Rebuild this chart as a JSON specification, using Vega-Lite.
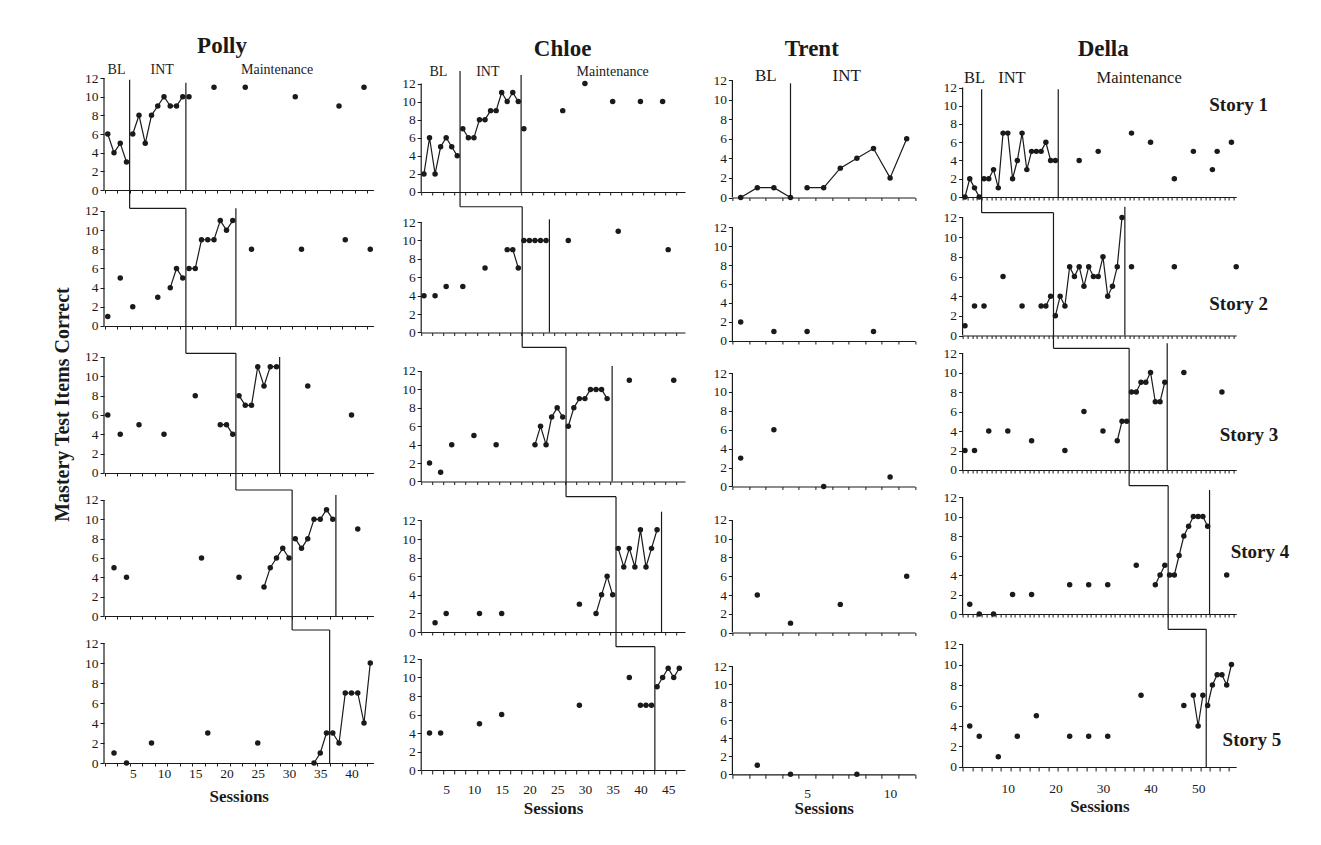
{
"$schema": "https://vega.github.io/schema/vega-lite/v6.json",
"background": "white",
"padding": {"left": 52, "top": 34, "right": 0, "bottom": 0},
"config": {
 "view": {"stroke": null},
 "axis": {"labelFont": "Liberation Serif", "labelFontSize": 13.5, "labelColor": "#1a1a1a", "domainColor": "#1a1a1a", "tickColor": "#1a1a1a", "domainWidth": 1.2, "tickWidth": 1, "grid": false, "titleFont": "Liberation Serif", "titleFontSize": 17, "titleFontWeight": "bold", "titleColor": "#1a1a1a", "labelFlush": false, "labelOverlap": false, "tickSize": 4, "labelPadding": 2},
 "text": {"font": "Liberation Serif", "color": "#1a1a1a"}
},
"datasets": {
 "pts": [
  {"p":"P","k":1,"s":1,"v":6,"g":"b"},{"p":"P","k":1,"s":2,"v":4,"g":"b"},{"p":"P","k":1,"s":3,"v":5,"g":"b"},{"p":"P","k":1,"s":4,"v":3,"g":"b"},
  {"p":"P","k":1,"s":5,"v":6,"g":"i"},{"p":"P","k":1,"s":6,"v":8,"g":"i"},{"p":"P","k":1,"s":7,"v":5,"g":"i"},{"p":"P","k":1,"s":8,"v":8,"g":"i"},{"p":"P","k":1,"s":9,"v":9,"g":"i"},{"p":"P","k":1,"s":10,"v":10,"g":"i"},{"p":"P","k":1,"s":11,"v":9,"g":"i"},{"p":"P","k":1,"s":12,"v":9,"g":"i"},{"p":"P","k":1,"s":13,"v":10,"g":"i"},
  {"p":"P","k":1,"s":14,"v":10},{"p":"P","k":1,"s":18,"v":11},{"p":"P","k":1,"s":23,"v":11},{"p":"P","k":1,"s":31,"v":10},{"p":"P","k":1,"s":38,"v":9},{"p":"P","k":1,"s":42,"v":11},
  {"p":"P","k":2,"s":1,"v":1},{"p":"P","k":2,"s":3,"v":5},{"p":"P","k":2,"s":5,"v":2},{"p":"P","k":2,"s":9,"v":3},
  {"p":"P","k":2,"s":11,"v":4,"g":"b"},{"p":"P","k":2,"s":12,"v":6,"g":"b"},{"p":"P","k":2,"s":13,"v":5,"g":"b"},
  {"p":"P","k":2,"s":14,"v":6,"g":"i"},{"p":"P","k":2,"s":15,"v":6,"g":"i"},{"p":"P","k":2,"s":16,"v":9,"g":"i"},{"p":"P","k":2,"s":17,"v":9,"g":"i"},{"p":"P","k":2,"s":18,"v":9,"g":"i"},{"p":"P","k":2,"s":19,"v":11,"g":"i"},{"p":"P","k":2,"s":20,"v":10,"g":"i"},{"p":"P","k":2,"s":21,"v":11,"g":"i"},
  {"p":"P","k":2,"s":24,"v":8},{"p":"P","k":2,"s":32,"v":8},{"p":"P","k":2,"s":39,"v":9},{"p":"P","k":2,"s":43,"v":8},
  {"p":"P","k":3,"s":1,"v":6},{"p":"P","k":3,"s":3,"v":4},{"p":"P","k":3,"s":6,"v":5},{"p":"P","k":3,"s":10,"v":4},{"p":"P","k":3,"s":15,"v":8},
  {"p":"P","k":3,"s":19,"v":5,"g":"b"},{"p":"P","k":3,"s":20,"v":5,"g":"b"},{"p":"P","k":3,"s":21,"v":4,"g":"b"},
  {"p":"P","k":3,"s":22,"v":8,"g":"i"},{"p":"P","k":3,"s":23,"v":7,"g":"i"},{"p":"P","k":3,"s":24,"v":7,"g":"i"},{"p":"P","k":3,"s":25,"v":11,"g":"i"},{"p":"P","k":3,"s":26,"v":9,"g":"i"},{"p":"P","k":3,"s":27,"v":11,"g":"i"},{"p":"P","k":3,"s":28,"v":11,"g":"i"},
  {"p":"P","k":3,"s":33,"v":9},{"p":"P","k":3,"s":40,"v":6},
  {"p":"P","k":4,"s":2,"v":5},{"p":"P","k":4,"s":4,"v":4},{"p":"P","k":4,"s":16,"v":6},{"p":"P","k":4,"s":22,"v":4},
  {"p":"P","k":4,"s":26,"v":3,"g":"b"},{"p":"P","k":4,"s":27,"v":5,"g":"b"},{"p":"P","k":4,"s":28,"v":6,"g":"b"},{"p":"P","k":4,"s":29,"v":7,"g":"b"},{"p":"P","k":4,"s":30,"v":6,"g":"b"},
  {"p":"P","k":4,"s":31,"v":8,"g":"i"},{"p":"P","k":4,"s":32,"v":7,"g":"i"},{"p":"P","k":4,"s":33,"v":8,"g":"i"},{"p":"P","k":4,"s":34,"v":10,"g":"i"},{"p":"P","k":4,"s":35,"v":10,"g":"i"},{"p":"P","k":4,"s":36,"v":11,"g":"i"},{"p":"P","k":4,"s":37,"v":10,"g":"i"},
  {"p":"P","k":4,"s":41,"v":9},
  {"p":"P","k":5,"s":2,"v":1},{"p":"P","k":5,"s":4,"v":0},{"p":"P","k":5,"s":8,"v":2},{"p":"P","k":5,"s":17,"v":3},{"p":"P","k":5,"s":25,"v":2},
  {"p":"P","k":5,"s":34,"v":0,"g":"b"},{"p":"P","k":5,"s":35,"v":1,"g":"b"},{"p":"P","k":5,"s":36,"v":3,"g":"b"},
  {"p":"P","k":5,"s":37,"v":3,"g":"i"},{"p":"P","k":5,"s":38,"v":2,"g":"i"},{"p":"P","k":5,"s":39,"v":7,"g":"i"},{"p":"P","k":5,"s":40,"v":7,"g":"i"},{"p":"P","k":5,"s":41,"v":7,"g":"i"},{"p":"P","k":5,"s":42,"v":4,"g":"i"},{"p":"P","k":5,"s":43,"v":10,"g":"i"},
  {"p":"C","k":1,"s":1,"v":2,"g":"b"},{"p":"C","k":1,"s":2,"v":6,"g":"b"},{"p":"C","k":1,"s":3,"v":2,"g":"b"},{"p":"C","k":1,"s":4,"v":5,"g":"b"},{"p":"C","k":1,"s":5,"v":6,"g":"b"},{"p":"C","k":1,"s":6,"v":5,"g":"b"},{"p":"C","k":1,"s":7,"v":4,"g":"b"},
  {"p":"C","k":1,"s":8,"v":7,"g":"i"},{"p":"C","k":1,"s":9,"v":6,"g":"i"},{"p":"C","k":1,"s":10,"v":6,"g":"i"},{"p":"C","k":1,"s":11,"v":8,"g":"i"},{"p":"C","k":1,"s":12,"v":8,"g":"i"},{"p":"C","k":1,"s":13,"v":9,"g":"i"},{"p":"C","k":1,"s":14,"v":9,"g":"i"},{"p":"C","k":1,"s":15,"v":11,"g":"i"},{"p":"C","k":1,"s":16,"v":10,"g":"i"},{"p":"C","k":1,"s":17,"v":11,"g":"i"},{"p":"C","k":1,"s":18,"v":10,"g":"i"},
  {"p":"C","k":1,"s":19,"v":7},{"p":"C","k":1,"s":26,"v":9},{"p":"C","k":1,"s":30,"v":12},{"p":"C","k":1,"s":35,"v":10},{"p":"C","k":1,"s":40,"v":10},{"p":"C","k":1,"s":44,"v":10},
  {"p":"C","k":2,"s":1,"v":4},{"p":"C","k":2,"s":3,"v":4},{"p":"C","k":2,"s":5,"v":5},{"p":"C","k":2,"s":8,"v":5},{"p":"C","k":2,"s":12,"v":7},
  {"p":"C","k":2,"s":16,"v":9,"g":"b"},{"p":"C","k":2,"s":17,"v":9,"g":"b"},{"p":"C","k":2,"s":18,"v":7,"g":"b"},
  {"p":"C","k":2,"s":19,"v":10,"g":"i"},{"p":"C","k":2,"s":20,"v":10,"g":"i"},{"p":"C","k":2,"s":21,"v":10,"g":"i"},{"p":"C","k":2,"s":22,"v":10,"g":"i"},{"p":"C","k":2,"s":23,"v":10,"g":"i"},
  {"p":"C","k":2,"s":27,"v":10},{"p":"C","k":2,"s":36,"v":11},{"p":"C","k":2,"s":45,"v":9},
  {"p":"C","k":3,"s":2,"v":2},{"p":"C","k":3,"s":4,"v":1},{"p":"C","k":3,"s":6,"v":4},{"p":"C","k":3,"s":10,"v":5},{"p":"C","k":3,"s":14,"v":4},
  {"p":"C","k":3,"s":21,"v":4,"g":"b"},{"p":"C","k":3,"s":22,"v":6,"g":"b"},{"p":"C","k":3,"s":23,"v":4,"g":"b"},{"p":"C","k":3,"s":24,"v":7,"g":"b"},{"p":"C","k":3,"s":25,"v":8,"g":"b"},{"p":"C","k":3,"s":26,"v":7,"g":"b"},
  {"p":"C","k":3,"s":27,"v":6,"g":"i"},{"p":"C","k":3,"s":28,"v":8,"g":"i"},{"p":"C","k":3,"s":29,"v":9,"g":"i"},{"p":"C","k":3,"s":30,"v":9,"g":"i"},{"p":"C","k":3,"s":31,"v":10,"g":"i"},{"p":"C","k":3,"s":32,"v":10,"g":"i"},{"p":"C","k":3,"s":33,"v":10,"g":"i"},{"p":"C","k":3,"s":34,"v":9,"g":"i"},
  {"p":"C","k":3,"s":38,"v":11},{"p":"C","k":3,"s":46,"v":11},
  {"p":"C","k":4,"s":3,"v":1},{"p":"C","k":4,"s":5,"v":2},{"p":"C","k":4,"s":11,"v":2},{"p":"C","k":4,"s":15,"v":2},{"p":"C","k":4,"s":29,"v":3},
  {"p":"C","k":4,"s":32,"v":2,"g":"b"},{"p":"C","k":4,"s":33,"v":4,"g":"b"},{"p":"C","k":4,"s":34,"v":6,"g":"b"},{"p":"C","k":4,"s":35,"v":4,"g":"b"},
  {"p":"C","k":4,"s":36,"v":9,"g":"i"},{"p":"C","k":4,"s":37,"v":7,"g":"i"},{"p":"C","k":4,"s":38,"v":9,"g":"i"},{"p":"C","k":4,"s":39,"v":7,"g":"i"},{"p":"C","k":4,"s":40,"v":11,"g":"i"},{"p":"C","k":4,"s":41,"v":7,"g":"i"},{"p":"C","k":4,"s":42,"v":9,"g":"i"},{"p":"C","k":4,"s":43,"v":11,"g":"i"},
  {"p":"C","k":5,"s":2,"v":4},{"p":"C","k":5,"s":4,"v":4},{"p":"C","k":5,"s":11,"v":5},{"p":"C","k":5,"s":15,"v":6},{"p":"C","k":5,"s":29,"v":7},{"p":"C","k":5,"s":38,"v":10},
  {"p":"C","k":5,"s":40,"v":7,"g":"b"},{"p":"C","k":5,"s":41,"v":7,"g":"b"},{"p":"C","k":5,"s":42,"v":7,"g":"b"},
  {"p":"C","k":5,"s":43,"v":9,"g":"i"},{"p":"C","k":5,"s":44,"v":10,"g":"i"},{"p":"C","k":5,"s":45,"v":11,"g":"i"},{"p":"C","k":5,"s":46,"v":10,"g":"i"},{"p":"C","k":5,"s":47,"v":11,"g":"i"},
  {"p":"T","k":1,"s":1,"v":0,"g":"b"},{"p":"T","k":1,"s":2,"v":1,"g":"b"},{"p":"T","k":1,"s":3,"v":1,"g":"b"},{"p":"T","k":1,"s":4,"v":0,"g":"b"},
  {"p":"T","k":1,"s":5,"v":1,"g":"i"},{"p":"T","k":1,"s":6,"v":1,"g":"i"},{"p":"T","k":1,"s":7,"v":3,"g":"i"},{"p":"T","k":1,"s":8,"v":4,"g":"i"},{"p":"T","k":1,"s":9,"v":5,"g":"i"},{"p":"T","k":1,"s":10,"v":2,"g":"i"},{"p":"T","k":1,"s":11,"v":6,"g":"i"},
  {"p":"T","k":2,"s":1,"v":2},{"p":"T","k":2,"s":3,"v":1},{"p":"T","k":2,"s":5,"v":1},{"p":"T","k":2,"s":9,"v":1},
  {"p":"T","k":3,"s":1,"v":3},{"p":"T","k":3,"s":3,"v":6},{"p":"T","k":3,"s":6,"v":0},{"p":"T","k":3,"s":10,"v":1},
  {"p":"T","k":4,"s":2,"v":4},{"p":"T","k":4,"s":4,"v":1},{"p":"T","k":4,"s":7,"v":3},{"p":"T","k":4,"s":11,"v":6},
  {"p":"T","k":5,"s":2,"v":1},{"p":"T","k":5,"s":4,"v":0},{"p":"T","k":5,"s":8,"v":0},
  {"p":"D","k":1,"s":1,"v":0,"g":"b"},{"p":"D","k":1,"s":2,"v":2,"g":"b"},{"p":"D","k":1,"s":3,"v":1,"g":"b"},{"p":"D","k":1,"s":4,"v":0,"g":"b"},
  {"p":"D","k":1,"s":5,"v":2,"g":"i"},{"p":"D","k":1,"s":6,"v":2,"g":"i"},{"p":"D","k":1,"s":7,"v":3,"g":"i"},{"p":"D","k":1,"s":8,"v":1,"g":"i"},{"p":"D","k":1,"s":9,"v":7,"g":"i"},{"p":"D","k":1,"s":10,"v":7,"g":"i"},{"p":"D","k":1,"s":11,"v":2,"g":"i"},{"p":"D","k":1,"s":12,"v":4,"g":"i"},{"p":"D","k":1,"s":13,"v":7,"g":"i"},{"p":"D","k":1,"s":14,"v":3,"g":"i"},{"p":"D","k":1,"s":15,"v":5,"g":"i"},{"p":"D","k":1,"s":16,"v":5,"g":"i"},{"p":"D","k":1,"s":17,"v":5,"g":"i"},{"p":"D","k":1,"s":18,"v":6,"g":"i"},{"p":"D","k":1,"s":19,"v":4,"g":"i"},{"p":"D","k":1,"s":20,"v":4,"g":"i"},
  {"p":"D","k":1,"s":25,"v":4},{"p":"D","k":1,"s":29,"v":5},{"p":"D","k":1,"s":36,"v":7},{"p":"D","k":1,"s":40,"v":6},{"p":"D","k":1,"s":45,"v":2},{"p":"D","k":1,"s":49,"v":5},{"p":"D","k":1,"s":53,"v":3},{"p":"D","k":1,"s":54,"v":5},{"p":"D","k":1,"s":57,"v":6},
  {"p":"D","k":2,"s":1,"v":1},{"p":"D","k":2,"s":3,"v":3},{"p":"D","k":2,"s":5,"v":3},{"p":"D","k":2,"s":9,"v":6},{"p":"D","k":2,"s":13,"v":3},
  {"p":"D","k":2,"s":17,"v":3,"g":"b"},{"p":"D","k":2,"s":18,"v":3,"g":"b"},{"p":"D","k":2,"s":19,"v":4,"g":"b"},
  {"p":"D","k":2,"s":20,"v":2,"g":"i"},{"p":"D","k":2,"s":21,"v":4,"g":"i"},{"p":"D","k":2,"s":22,"v":3,"g":"i"},{"p":"D","k":2,"s":23,"v":7,"g":"i"},{"p":"D","k":2,"s":24,"v":6,"g":"i"},{"p":"D","k":2,"s":25,"v":7,"g":"i"},{"p":"D","k":2,"s":26,"v":5,"g":"i"},{"p":"D","k":2,"s":27,"v":7,"g":"i"},{"p":"D","k":2,"s":28,"v":6,"g":"i"},{"p":"D","k":2,"s":29,"v":6,"g":"i"},{"p":"D","k":2,"s":30,"v":8,"g":"i"},{"p":"D","k":2,"s":31,"v":4,"g":"i"},{"p":"D","k":2,"s":32,"v":5,"g":"i"},{"p":"D","k":2,"s":33,"v":7,"g":"i"},{"p":"D","k":2,"s":34,"v":12,"g":"i"},
  {"p":"D","k":2,"s":36,"v":7},{"p":"D","k":2,"s":45,"v":7},{"p":"D","k":2,"s":58,"v":7},
  {"p":"D","k":3,"s":1,"v":2},{"p":"D","k":3,"s":3,"v":2},{"p":"D","k":3,"s":6,"v":4},{"p":"D","k":3,"s":10,"v":4},{"p":"D","k":3,"s":15,"v":3},{"p":"D","k":3,"s":22,"v":2},{"p":"D","k":3,"s":26,"v":6},{"p":"D","k":3,"s":30,"v":4},
  {"p":"D","k":3,"s":33,"v":3,"g":"b"},{"p":"D","k":3,"s":34,"v":5,"g":"b"},{"p":"D","k":3,"s":35,"v":5,"g":"b"},
  {"p":"D","k":3,"s":36,"v":8,"g":"i"},{"p":"D","k":3,"s":37,"v":8,"g":"i"},{"p":"D","k":3,"s":38,"v":9,"g":"i"},{"p":"D","k":3,"s":39,"v":9,"g":"i"},{"p":"D","k":3,"s":40,"v":10,"g":"i"},{"p":"D","k":3,"s":41,"v":7,"g":"i"},{"p":"D","k":3,"s":42,"v":7,"g":"i"},{"p":"D","k":3,"s":43,"v":9,"g":"i"},
  {"p":"D","k":3,"s":47,"v":10},{"p":"D","k":3,"s":55,"v":8},
  {"p":"D","k":4,"s":2,"v":1},{"p":"D","k":4,"s":4,"v":0},{"p":"D","k":4,"s":7,"v":0},{"p":"D","k":4,"s":11,"v":2},{"p":"D","k":4,"s":15,"v":2},{"p":"D","k":4,"s":23,"v":3},{"p":"D","k":4,"s":27,"v":3},{"p":"D","k":4,"s":31,"v":3},{"p":"D","k":4,"s":37,"v":5},
  {"p":"D","k":4,"s":41,"v":3,"g":"b"},{"p":"D","k":4,"s":42,"v":4,"g":"b"},{"p":"D","k":4,"s":43,"v":5,"g":"b"},
  {"p":"D","k":4,"s":44,"v":4,"g":"i"},{"p":"D","k":4,"s":45,"v":4,"g":"i"},{"p":"D","k":4,"s":46,"v":6,"g":"i"},{"p":"D","k":4,"s":47,"v":8,"g":"i"},{"p":"D","k":4,"s":48,"v":9,"g":"i"},{"p":"D","k":4,"s":49,"v":10,"g":"i"},{"p":"D","k":4,"s":50,"v":10,"g":"i"},{"p":"D","k":4,"s":51,"v":10,"g":"i"},{"p":"D","k":4,"s":52,"v":9,"g":"i"},
  {"p":"D","k":4,"s":56,"v":4},
  {"p":"D","k":5,"s":2,"v":4},{"p":"D","k":5,"s":4,"v":3},{"p":"D","k":5,"s":8,"v":1},{"p":"D","k":5,"s":12,"v":3},{"p":"D","k":5,"s":16,"v":5},{"p":"D","k":5,"s":23,"v":3},{"p":"D","k":5,"s":27,"v":3},{"p":"D","k":5,"s":31,"v":3},{"p":"D","k":5,"s":38,"v":7},{"p":"D","k":5,"s":47,"v":6},
  {"p":"D","k":5,"s":49,"v":7,"g":"b"},{"p":"D","k":5,"s":50,"v":4,"g":"b"},{"p":"D","k":5,"s":51,"v":7,"g":"b"},
  {"p":"D","k":5,"s":52,"v":6,"g":"i"},{"p":"D","k":5,"s":53,"v":8,"g":"i"},{"p":"D","k":5,"s":54,"v":9,"g":"i"},{"p":"D","k":5,"s":55,"v":9,"g":"i"},{"p":"D","k":5,"s":56,"v":8,"g":"i"},{"p":"D","k":5,"s":57,"v":10,"g":"i"}
 ],
 "ph": [
  {"p":"P","k":1,"s":0.4,"s2":0.4,"v":0,"v2":12},{"p":"P","k":2,"s":0.4,"s2":0.4,"v":0,"v2":12},{"p":"P","k":3,"s":0.4,"s2":0.4,"v":0,"v2":12},{"p":"P","k":4,"s":0.4,"s2":0.4,"v":0,"v2":12},{"p":"P","k":5,"s":0.4,"s2":0.4,"v":0,"v2":12},
  {"p":"C","k":1,"s":0.5,"s2":0.5,"v":0,"v2":12},{"p":"C","k":2,"s":0.5,"s2":0.5,"v":0,"v2":12},{"p":"C","k":3,"s":0.5,"s2":0.5,"v":0,"v2":12},{"p":"C","k":4,"s":0.5,"s2":0.5,"v":0,"v2":12},{"p":"C","k":5,"s":0.5,"s2":0.5,"v":0,"v2":12},
  {"p":"T","k":1,"s":0.5,"s2":0.5,"v":0,"v2":12},{"p":"T","k":2,"s":0.5,"s2":0.5,"v":0,"v2":12},{"p":"T","k":3,"s":0.5,"s2":0.5,"v":0,"v2":12},{"p":"T","k":4,"s":0.5,"s2":0.5,"v":0,"v2":12},{"p":"T","k":5,"s":0.5,"s2":0.5,"v":0,"v2":12},
  {"p":"D","k":1,"s":0.5,"s2":0.5,"v":0,"v2":12},{"p":"D","k":2,"s":0.5,"s2":0.5,"v":0,"v2":12},{"p":"D","k":3,"s":0.5,"s2":0.5,"v":0,"v2":12},{"p":"D","k":4,"s":0.5,"s2":0.5,"v":0,"v2":12},{"p":"D","k":5,"s":0.5,"s2":0.5,"v":0,"v2":12},
  {"p":"P","k":1,"s":4.5,"s2":4.5,"v":11.8,"v2":-1.96},{"p":"P","k":1,"s":4.5,"s2":13.5,"v":-1.96,"v2":-1.96},{"p":"P","k":1,"s":13.5,"s2":13.5,"v":11.5,"v2":0},
  {"p":"P","k":2,"s":13.5,"s2":13.5,"v":12.28,"v2":-2.85},{"p":"P","k":2,"s":13.5,"s2":21.5,"v":-2.85,"v2":-2.85},{"p":"P","k":2,"s":21.5,"s2":21.5,"v":12.28,"v2":0},
  {"p":"P","k":3,"s":21.5,"s2":21.5,"v":12.38,"v2":-1.76},{"p":"P","k":3,"s":21.5,"s2":30.5,"v":-1.76,"v2":-1.76},{"p":"P","k":3,"s":28.5,"s2":28.5,"v":12,"v2":0},
  {"p":"P","k":4,"s":30.5,"s2":30.5,"v":13.03,"v2":-1.45},{"p":"P","k":4,"s":30.5,"s2":36.5,"v":-1.45,"v2":-1.45},{"p":"P","k":4,"s":37.5,"s2":37.5,"v":12.52,"v2":0},
  {"p":"P","k":5,"s":36.5,"s2":36.5,"v":13.3,"v2":0},
  {"p":"C","k":1,"s":7.5,"s2":7.5,"v":13.38,"v2":-1.63},{"p":"C","k":1,"s":7.5,"s2":18.7,"v":-1.63,"v2":-1.63},{"p":"C","k":1,"s":18.5,"s2":18.5,"v":12.94,"v2":0},
  {"p":"C","k":2,"s":18.7,"s2":18.7,"v":13.66,"v2":-1.61},{"p":"C","k":2,"s":18.7,"s2":26.6,"v":-1.61,"v2":-1.61},{"p":"C","k":2,"s":23.6,"s2":23.6,"v":12.29,"v2":0},
  {"p":"C","k":3,"s":26.6,"s2":26.6,"v":14.57,"v2":-1.65},{"p":"C","k":3,"s":26.6,"s2":35.6,"v":-1.65,"v2":-1.65},{"p":"C","k":3,"s":34.9,"s2":34.9,"v":12.54,"v2":0},
  {"p":"C","k":4,"s":35.6,"s2":35.6,"v":14.56,"v2":-1.58},{"p":"C","k":4,"s":35.6,"s2":42.6,"v":-1.58,"v2":-1.58},{"p":"C","k":4,"s":43.8,"s2":43.8,"v":12.95,"v2":0},
  {"p":"C","k":5,"s":42.6,"s2":42.6,"v":13.33,"v2":0},
  {"p":"T","k":1,"s":4,"s2":4,"v":11.66,"v2":0},
  {"p":"D","k":1,"s":4.5,"s2":4.5,"v":11.8,"v2":-1.72},{"p":"D","k":1,"s":4.5,"s2":19.6,"v":-1.72,"v2":-1.72},{"p":"D","k":1,"s":20.6,"s2":20.6,"v":11.8,"v2":0},
  {"p":"D","k":2,"s":19.6,"s2":19.6,"v":12.49,"v2":-1.3},{"p":"D","k":2,"s":19.6,"s2":35.5,"v":-1.3,"v2":-1.3},{"p":"D","k":2,"s":34.6,"s2":34.6,"v":13.1,"v2":0},
  {"p":"D","k":3,"s":35.5,"s2":35.5,"v":12.48,"v2":-1.61},{"p":"D","k":3,"s":35.5,"s2":43.7,"v":-1.61,"v2":-1.61},{"p":"D","k":3,"s":43.5,"s2":43.5,"v":13.0,"v2":0},
  {"p":"D","k":4,"s":43.7,"s2":43.7,"v":13.16,"v2":-1.57},{"p":"D","k":4,"s":43.7,"s2":51.7,"v":-1.57,"v2":-1.57},{"p":"D","k":4,"s":52.4,"s2":52.4,"v":12.72,"v2":0},
  {"p":"D","k":5,"s":51.7,"s2":51.7,"v":13.43,"v2":0}
 ],
 "lab": [
  {"p":"P","k":1,"c":"name","s":19.28,"v":14.68,"t":"Polly"},
  {"p":"C","k":1,"c":"name","s":25.98,"v":15.04,"t":"Chloe"},
  {"p":"T","k":1,"c":"name","s":5.28,"v":14.45,"t":"Trent"},
  {"p":"D","k":1,"c":"name","s":30.05,"v":15.45,"t":"Della"},
  {"p":"P","k":1,"c":"phase","s":2.4,"v":12.86,"t":"BL"},{"p":"P","k":1,"c":"phase","s":9.7,"v":12.86,"t":"INT"},{"p":"P","k":1,"c":"phase","s":28.1,"v":12.86,"t":"Maintenance"},
  {"p":"C","k":1,"c":"phase","s":3.6,"v":13.3,"t":"BL"},{"p":"C","k":1,"c":"phase","s":12.5,"v":13.3,"t":"INT"},{"p":"C","k":1,"c":"phase","s":35.0,"v":13.3,"t":"Maintenance"},
  {"p":"T","k":1,"c":"phase","s":2.51,"v":12.41,"t":"BL"},{"p":"T","k":1,"c":"phase","s":7.39,"v":12.41,"t":"INT"},
  {"p":"D","k":1,"c":"phase","s":3.0,"v":13.0,"t":"BL"},{"p":"D","k":1,"c":"phase","s":10.87,"v":13.0,"t":"INT"},{"p":"D","k":1,"c":"phase","s":37.6,"v":13.0,"t":"Maintenance"},
  {"p":"D","k":1,"c":"story","s":58.5,"v":10.1,"t":"Story 1"},
  {"p":"D","k":2,"c":"story","s":58.5,"v":3.2,"t":"Story 2"},
  {"p":"D","k":3,"c":"story","s":60.7,"v":3.6,"t":"Story 3"},
  {"p":"D","k":4,"c":"story","s":63.0,"v":6.36,"t":"Story 4"},
  {"p":"D","k":5,"c":"story","s":61.3,"v":2.6,"t":"Story 5"}
 ]
},
"columns": 4,
"spacing": {"row": 10, "column": 47.2},
"bounds": "flush",
"align": "each",
"resolve": {"scale": {"x": "independent", "y": "independent"}},
"concat": [
 {"width": 269.4, "height": 122,
  "encoding": {"x": {"field": "s", "type": "quantitative", "scale": {"domain": [0.4, 43.5], "nice": false, "zero": false}, "axis": {"values": [0.5,2.5,4.5,6.5,8.5,10.5,12.5,14.5,16.5,18.5,20.5,22.5,24.5,26.5,28.5,30.5,32.5,34.5,36.5,38.5,40.5,42.5], "labels": false, "title": null, "tickSize": 3, "offset": -10}},
               "y": {"field": "v", "type": "quantitative", "scale": {"domain": [-1.0714, 12], "nice": false, "zero": false}, "axis": {"values": [0,2,4,6,8,10,12], "title": null, "domain": false}}},
  "layer": [
   {"data": {"name": "ph"}, "transform": [{"filter": "datum.p==='P'&&datum.k===1"}], "mark": {"type": "rule", "color": "#1a1a1a", "strokeWidth": 1.2}, "encoding": {"x2": {"field": "s2"}, "y2": {"field": "v2"}}},
   {"data": {"name": "pts"}, "transform": [{"filter": "datum.p==='P'&&datum.k===1&&datum.g"}], "mark": {"type": "line", "color": "#1a1a1a", "strokeWidth": 1.2}, "encoding": {"detail": {"field": "g"}}},
   {"data": {"name": "pts"}, "transform": [{"filter": "datum.p==='P'&&datum.k===1"}], "mark": {"type": "circle", "color": "#1a1a1a", "size": 30, "opacity": 1}},
   {"data": {"name": "lab"}, "transform": [{"filter": "datum.p==='P'&&datum.k===1&&datum.c==='phase'"}], "mark": {"type": "text", "fontSize": 14, "baseline": "middle"}, "encoding": {"text": {"field": "t"}}},
   {"data": {"name": "lab"}, "transform": [{"filter": "datum.p==='P'&&datum.k===1&&datum.c==='name'"}], "mark": {"type": "text", "fontSize": 23, "fontWeight": "bold", "baseline": "alphabetic"}, "encoding": {"text": {"field": "t"}}}
  ]},
 {"width": 263.8, "height": 122,
  "encoding": {"x": {"field": "s", "type": "quantitative", "scale": {"domain": [0.5, 48.03], "nice": false, "zero": false}, "axis": {"values": [0.5,2.5,4.5,6.5,8.5,10.5,12.5,14.5,16.5,18.5,20.5,22.5,24.5,26.5,28.5,30.5,32.5,34.5,36.5,38.5,40.5,42.5,44.5,46.5], "labels": false, "title": null, "tickSize": 3, "offset": -8}},
               "y": {"field": "v", "type": "quantitative", "scale": {"domain": [-0.8848, 12.6083], "nice": false, "zero": false}, "axis": {"values": [0,2,4,6,8,10,12], "title": null, "domain": false}}},
  "layer": [
   {"data": {"name": "ph"}, "transform": [{"filter": "datum.p==='C'&&datum.k===1"}], "mark": {"type": "rule", "color": "#1a1a1a", "strokeWidth": 1.2}, "encoding": {"x2": {"field": "s2"}, "y2": {"field": "v2"}}},
   {"data": {"name": "pts"}, "transform": [{"filter": "datum.p==='C'&&datum.k===1&&datum.g"}], "mark": {"type": "line", "color": "#1a1a1a", "strokeWidth": 1.2}, "encoding": {"detail": {"field": "g"}}},
   {"data": {"name": "pts"}, "transform": [{"filter": "datum.p==='C'&&datum.k===1"}], "mark": {"type": "circle", "color": "#1a1a1a", "size": 30, "opacity": 1}},
   {"data": {"name": "lab"}, "transform": [{"filter": "datum.p==='C'&&datum.k===1&&datum.c==='phase'"}], "mark": {"type": "text", "fontSize": 14, "baseline": "middle"}, "encoding": {"text": {"field": "t"}}},
   {"data": {"name": "lab"}, "transform": [{"filter": "datum.p==='C'&&datum.k===1&&datum.c==='name'"}], "mark": {"type": "text", "fontSize": 23, "fontWeight": "bold", "baseline": "alphabetic"}, "encoding": {"text": {"field": "t"}}}
  ]},
 {"width": 182.6, "height": 122,
  "encoding": {"x": {"field": "s", "type": "quantitative", "scale": {"domain": [0.5, 11.5], "nice": false, "zero": false}, "axis": {"values": [0.5,1.5,2.5,3.5,4.5,5.5,6.5,7.5,8.5,9.5,10.5,11.5], "labels": false, "title": null, "tickSize": 3, "offset": -2.5}},
               "y": {"field": "v", "type": "quantitative", "scale": {"domain": [-0.2553, 12.2043], "nice": false, "zero": false}, "axis": {"values": [0,2,4,6,8,10,12], "title": null, "domain": false}}},
  "layer": [
   {"data": {"name": "ph"}, "transform": [{"filter": "datum.p==='T'&&datum.k===1"}], "mark": {"type": "rule", "color": "#1a1a1a", "strokeWidth": 1.2}, "encoding": {"x2": {"field": "s2"}, "y2": {"field": "v2"}}},
   {"data": {"name": "pts"}, "transform": [{"filter": "datum.p==='T'&&datum.k===1&&datum.g"}], "mark": {"type": "line", "color": "#1a1a1a", "strokeWidth": 1.2}, "encoding": {"detail": {"field": "g"}}},
   {"data": {"name": "pts"}, "transform": [{"filter": "datum.p==='T'&&datum.k===1"}], "mark": {"type": "circle", "color": "#1a1a1a", "size": 30, "opacity": 1}},
   {"data": {"name": "lab"}, "transform": [{"filter": "datum.p==='T'&&datum.k===1&&datum.c==='phase'"}], "mark": {"type": "text", "fontSize": 17, "baseline": "middle"}, "encoding": {"text": {"field": "t"}}},
   {"data": {"name": "lab"}, "transform": [{"filter": "datum.p==='T'&&datum.k===1&&datum.c==='name'"}], "mark": {"type": "text", "fontSize": 23, "fontWeight": "bold", "baseline": "alphabetic"}, "encoding": {"text": {"field": "t"}}}
  ]},
 {"width": 273.6, "height": 122,
  "encoding": {"x": {"field": "s", "type": "quantitative", "scale": {"domain": [0.5, 58], "nice": false, "zero": false}, "axis": {"values": [0.5,1.5,2.5,3.5,4.5,5.5,6.5,7.5,8.5,9.5,10.5,11.5,12.5,13.5,14.5,15.5,16.5,17.5,18.5,19.5,20.5,21.5,22.5,23.5,24.5,25.5,26.5,27.5,28.5,29.5,30.5,31.5,32.5,33.5,34.5,35.5,36.5,37.5,38.5,39.5,40.5,41.5,42.5,43.5,44.5,45.5,46.5,47.5,48.5,49.5,50.5,51.5,52.5,53.5,54.5,55.5,56.5,57.5], "labels": false, "title": null, "tickSize": 3, "offset": -3}},
               "y": {"field": "v", "type": "quantitative", "scale": {"domain": [-0.3288, 13.0411], "nice": false, "zero": false}, "axis": {"values": [0,2,4,6,8,10,12], "title": null, "domain": false}}},
  "layer": [
   {"data": {"name": "ph"}, "transform": [{"filter": "datum.p==='D'&&datum.k===1"}], "mark": {"type": "rule", "color": "#1a1a1a", "strokeWidth": 1.2}, "encoding": {"x2": {"field": "s2"}, "y2": {"field": "v2"}}},
   {"data": {"name": "pts"}, "transform": [{"filter": "datum.p==='D'&&datum.k===1&&datum.g"}], "mark": {"type": "line", "color": "#1a1a1a", "strokeWidth": 1.2}, "encoding": {"detail": {"field": "g"}}},
   {"data": {"name": "pts"}, "transform": [{"filter": "datum.p==='D'&&datum.k===1"}], "mark": {"type": "circle", "color": "#1a1a1a", "size": 30, "opacity": 1}},
   {"data": {"name": "lab"}, "transform": [{"filter": "datum.p==='D'&&datum.k===1&&datum.c==='phase'"}], "mark": {"type": "text", "fontSize": 16.5, "baseline": "middle"}, "encoding": {"text": {"field": "t"}}},
   {"data": {"name": "lab"}, "transform": [{"filter": "datum.p==='D'&&datum.k===1&&datum.c==='name'"}], "mark": {"type": "text", "fontSize": 23, "fontWeight": "bold", "baseline": "alphabetic"}, "encoding": {"text": {"field": "t"}}},
   {"data": {"name": "lab"}, "transform": [{"filter": "datum.p==='D'&&datum.k===1&&datum.c==='story'"}], "mark": {"type": "text", "fontSize": 19, "fontWeight": "bold", "baseline": "middle"}, "encoding": {"text": {"field": "t"}}}
  ]},

 {"width": 269.4, "height": 132,
  "encoding": {"x": {"field": "s", "type": "quantitative", "scale": {"domain": [0.4, 43.5], "nice": false, "zero": false}, "axis": {"values": [0.5,2.5,4.5,6.5,8.5,10.5,12.5,14.5,16.5,18.5,20.5,22.5,24.5,26.5,28.5,30.5,32.5,34.5,36.5,38.5,40.5,42.5], "labels": false, "title": null, "tickSize": 3, "offset": -16}},
               "y": {"field": "v", "type": "quantitative", "scale": {"domain": [-1.6696, 12.1043], "nice": false, "zero": false}, "axis": {"values": [0,2,4,6,8,10,12], "title": null, "domain": false}}},
  "layer": [
   {"data": {"name": "ph"}, "transform": [{"filter": "datum.p==='P'&&datum.k===2"}], "mark": {"type": "rule", "color": "#1a1a1a", "strokeWidth": 1.2}, "encoding": {"x2": {"field": "s2"}, "y2": {"field": "v2"}}},
   {"data": {"name": "pts"}, "transform": [{"filter": "datum.p==='P'&&datum.k===2&&datum.g"}], "mark": {"type": "line", "color": "#1a1a1a", "strokeWidth": 1.2}, "encoding": {"detail": {"field": "g"}}},
   {"data": {"name": "pts"}, "transform": [{"filter": "datum.p==='P'&&datum.k===2"}], "mark": {"type": "circle", "color": "#1a1a1a", "size": 30, "opacity": 1}}
  ]},
 {"width": 263.8, "height": 132,
  "encoding": {"x": {"field": "s", "type": "quantitative", "scale": {"domain": [0.5, 48.03], "nice": false, "zero": false}, "axis": {"values": [0.5,2.5,4.5,6.5,8.5,10.5,12.5,14.5,16.5,18.5,20.5,22.5,24.5,26.5,28.5,30.5,32.5,34.5,36.5,38.5,40.5,42.5,44.5,46.5], "labels": false, "title": null, "tickSize": 3, "offset": -9.5}},
               "y": {"field": "v", "type": "quantitative", "scale": {"domain": [-1.0317, 13.3032], "nice": false, "zero": false}, "axis": {"values": [0,2,4,6,8,10,12], "title": null, "domain": false}}},
  "layer": [
   {"data": {"name": "ph"}, "transform": [{"filter": "datum.p==='C'&&datum.k===2"}], "mark": {"type": "rule", "color": "#1a1a1a", "strokeWidth": 1.2}, "encoding": {"x2": {"field": "s2"}, "y2": {"field": "v2"}}},
   {"data": {"name": "pts"}, "transform": [{"filter": "datum.p==='C'&&datum.k===2&&datum.g"}], "mark": {"type": "line", "color": "#1a1a1a", "strokeWidth": 1.2}, "encoding": {"detail": {"field": "g"}}},
   {"data": {"name": "pts"}, "transform": [{"filter": "datum.p==='C'&&datum.k===2"}], "mark": {"type": "circle", "color": "#1a1a1a", "size": 30, "opacity": 1}}
  ]},
 {"width": 182.6, "height": 132,
  "encoding": {"x": {"field": "s", "type": "quantitative", "scale": {"domain": [0.5, 11.5], "nice": false, "zero": false}, "axis": {"values": [0.5,1.5,2.5,3.5,4.5,5.5,6.5,7.5,8.5,9.5,10.5,11.5], "labels": false, "title": null, "tickSize": 3, "offset": -1}},
               "y": {"field": "v", "type": "quantitative", "scale": {"domain": [-0.1053, 13.7895], "nice": false, "zero": false}, "axis": {"values": [0,2,4,6,8,10,12], "title": null, "domain": false}}},
  "layer": [
   {"data": {"name": "ph"}, "transform": [{"filter": "datum.p==='T'&&datum.k===2"}], "mark": {"type": "rule", "color": "#1a1a1a", "strokeWidth": 1.2}, "encoding": {"x2": {"field": "s2"}, "y2": {"field": "v2"}}},
   {"data": {"name": "pts"}, "transform": [{"filter": "datum.p==='T'&&datum.k===2"}], "mark": {"type": "circle", "color": "#1a1a1a", "size": 30, "opacity": 1}}
  ]},
 {"width": 273.6, "height": 132,
  "encoding": {"x": {"field": "s", "type": "quantitative", "scale": {"domain": [0.5, 58], "nice": false, "zero": false}, "axis": {"values": [0.5,1.5,2.5,3.5,4.5,5.5,6.5,7.5,8.5,9.5,10.5,11.5,12.5,13.5,14.5,15.5,16.5,17.5,18.5,19.5,20.5,21.5,22.5,23.5,24.5,25.5,26.5,27.5,28.5,29.5,30.5,31.5,32.5,33.5,34.5,35.5,36.5,37.5,38.5,39.5,40.5,41.5,42.5,43.5,44.5,45.5,46.5,47.5,48.5,49.5,50.5,51.5,52.5,53.5,54.5,55.5,56.5,57.5], "labels": false, "title": null, "tickSize": 3, "offset": -6.5}},
               "y": {"field": "v", "type": "quantitative", "scale": {"domain": [-0.661, 12.7627], "nice": false, "zero": false}, "axis": {"values": [0,2,4,6,8,10,12], "title": null, "domain": false}}},
  "layer": [
   {"data": {"name": "ph"}, "transform": [{"filter": "datum.p==='D'&&datum.k===2"}], "mark": {"type": "rule", "color": "#1a1a1a", "strokeWidth": 1.2}, "encoding": {"x2": {"field": "s2"}, "y2": {"field": "v2"}}},
   {"data": {"name": "pts"}, "transform": [{"filter": "datum.p==='D'&&datum.k===2&&datum.g"}], "mark": {"type": "line", "color": "#1a1a1a", "strokeWidth": 1.2}, "encoding": {"detail": {"field": "g"}}},
   {"data": {"name": "pts"}, "transform": [{"filter": "datum.p==='D'&&datum.k===2"}], "mark": {"type": "circle", "color": "#1a1a1a", "size": 30, "opacity": 1}},
   {"data": {"name": "lab"}, "transform": [{"filter": "datum.p==='D'&&datum.k===2&&datum.c==='story'"}], "mark": {"type": "text", "fontSize": 19, "fontWeight": "bold", "baseline": "middle"}, "encoding": {"text": {"field": "t"}}}
  ]},

 {"width": 269.4, "height": 135,
  "encoding": {"x": {"field": "s", "type": "quantitative", "scale": {"domain": [0.4, 43.5], "nice": false, "zero": false}, "axis": {"values": [0.5,2.5,4.5,6.5,8.5,10.5,12.5,14.5,16.5,18.5,20.5,22.5,24.5,26.5,28.5,30.5,32.5,34.5,36.5,38.5,40.5,42.5], "labels": false, "title": null, "tickSize": 3, "offset": -14}},
               "y": {"field": "v", "type": "quantitative", "scale": {"domain": [-1.4483, 12.5172], "nice": false, "zero": false}, "axis": {"values": [0,2,4,6,8,10,12], "title": "Mastery Test Items Correct", "titleFontSize": 20, "titlePadding": 12, "titleY": 52, "domain": false}}},
  "layer": [
   {"data": {"name": "ph"}, "transform": [{"filter": "datum.p==='P'&&datum.k===3"}], "mark": {"type": "rule", "color": "#1a1a1a", "strokeWidth": 1.2}, "encoding": {"x2": {"field": "s2"}, "y2": {"field": "v2"}}},
   {"data": {"name": "pts"}, "transform": [{"filter": "datum.p==='P'&&datum.k===3&&datum.g"}], "mark": {"type": "line", "color": "#1a1a1a", "strokeWidth": 1.2}, "encoding": {"detail": {"field": "g"}}},
   {"data": {"name": "pts"}, "transform": [{"filter": "datum.p==='P'&&datum.k===3"}], "mark": {"type": "circle", "color": "#1a1a1a", "size": 30, "opacity": 1}}
  ]},
 {"width": 263.8, "height": 135,
  "encoding": {"x": {"field": "s", "type": "quantitative", "scale": {"domain": [0.5, 48.03], "nice": false, "zero": false}, "axis": {"values": [0.5,2.5,4.5,6.5,8.5,10.5,12.5,14.5,16.5,18.5,20.5,22.5,24.5,26.5,28.5,30.5,32.5,34.5,36.5,38.5,40.5,42.5,44.5,46.5], "labels": false, "title": null, "tickSize": 3, "offset": -5.5}},
               "y": {"field": "v", "type": "quantitative", "scale": {"domain": [-0.5973, 14.0633], "nice": false, "zero": false}, "axis": {"values": [0,2,4,6,8,10,12], "title": null, "domain": false}}},
  "layer": [
   {"data": {"name": "ph"}, "transform": [{"filter": "datum.p==='C'&&datum.k===3"}], "mark": {"type": "rule", "color": "#1a1a1a", "strokeWidth": 1.2}, "encoding": {"x2": {"field": "s2"}, "y2": {"field": "v2"}}},
   {"data": {"name": "pts"}, "transform": [{"filter": "datum.p==='C'&&datum.k===3&&datum.g"}], "mark": {"type": "line", "color": "#1a1a1a", "strokeWidth": 1.2}, "encoding": {"detail": {"field": "g"}}},
   {"data": {"name": "pts"}, "transform": [{"filter": "datum.p==='C'&&datum.k===3"}], "mark": {"type": "circle", "color": "#1a1a1a", "size": 30, "opacity": 1}}
  ]},
 {"width": 182.6, "height": 135,
  "encoding": {"x": {"field": "s", "type": "quantitative", "scale": {"domain": [0.5, 11.5], "nice": false, "zero": false}, "axis": {"values": [0.5,1.5,2.5,3.5,4.5,5.5,6.5,7.5,8.5,9.5,10.5,11.5], "labels": false, "title": null, "tickSize": 3, "offset": -0.5}},
               "y": {"field": "v", "type": "quantitative", "scale": {"domain": [-0.0529, 14.2203], "nice": false, "zero": false}, "axis": {"values": [0,2,4,6,8,10,12], "title": null, "domain": false}}},
  "layer": [
   {"data": {"name": "ph"}, "transform": [{"filter": "datum.p==='T'&&datum.k===3"}], "mark": {"type": "rule", "color": "#1a1a1a", "strokeWidth": 1.2}, "encoding": {"x2": {"field": "s2"}, "y2": {"field": "v2"}}},
   {"data": {"name": "pts"}, "transform": [{"filter": "datum.p==='T'&&datum.k===3"}], "mark": {"type": "circle", "color": "#1a1a1a", "size": 30, "opacity": 1}}
  ]},
 {"width": 273.6, "height": 135,
  "encoding": {"x": {"field": "s", "type": "quantitative", "scale": {"domain": [0.5, 58], "nice": false, "zero": false}, "axis": {"values": [0.5,1.5,2.5,3.5,4.5,5.5,6.5,7.5,8.5,9.5,10.5,11.5,12.5,13.5,14.5,15.5,16.5,17.5,18.5,19.5,20.5,21.5,22.5,23.5,24.5,25.5,26.5,27.5,28.5,29.5,30.5,31.5,32.5,33.5,34.5,35.5,36.5,37.5,38.5,39.5,40.5,41.5,42.5,43.5,44.5,45.5,46.5,47.5,48.5,49.5,50.5,51.5,52.5,53.5,54.5,55.5,56.5,57.5], "labels": false, "title": null, "tickSize": 3, "offset": -17}},
               "y": {"field": "v", "type": "quantitative", "scale": {"domain": [-1.7436, 12.1026], "nice": false, "zero": false}, "axis": {"values": [0,2,4,6,8,10,12], "title": null, "domain": false}}},
  "layer": [
   {"data": {"name": "ph"}, "transform": [{"filter": "datum.p==='D'&&datum.k===3"}], "mark": {"type": "rule", "color": "#1a1a1a", "strokeWidth": 1.2}, "encoding": {"x2": {"field": "s2"}, "y2": {"field": "v2"}}},
   {"data": {"name": "pts"}, "transform": [{"filter": "datum.p==='D'&&datum.k===3&&datum.g"}], "mark": {"type": "line", "color": "#1a1a1a", "strokeWidth": 1.2}, "encoding": {"detail": {"field": "g"}}},
   {"data": {"name": "pts"}, "transform": [{"filter": "datum.p==='D'&&datum.k===3"}], "mark": {"type": "circle", "color": "#1a1a1a", "size": 30, "opacity": 1}},
   {"data": {"name": "lab"}, "transform": [{"filter": "datum.p==='D'&&datum.k===3&&datum.c==='story'"}], "mark": {"type": "text", "fontSize": 19, "fontWeight": "bold", "baseline": "middle"}, "encoding": {"text": {"field": "t"}}}
  ]},

 {"width": 269.4, "height": 136,
  "encoding": {"x": {"field": "s", "type": "quantitative", "scale": {"domain": [0.4, 43.5], "nice": false, "zero": false}, "axis": {"values": [0.5,2.5,4.5,6.5,8.5,10.5,12.5,14.5,16.5,18.5,20.5,22.5,24.5,26.5,28.5,30.5,32.5,34.5,36.5,38.5,40.5,42.5], "labels": false, "title": null, "tickSize": 3, "offset": -17}},
               "y": {"field": "v", "type": "quantitative", "scale": {"domain": [-1.7586, 12.3103], "nice": false, "zero": false}, "axis": {"values": [0,2,4,6,8,10,12], "title": null, "domain": false}}},
  "layer": [
   {"data": {"name": "ph"}, "transform": [{"filter": "datum.p==='P'&&datum.k===4"}], "mark": {"type": "rule", "color": "#1a1a1a", "strokeWidth": 1.2}, "encoding": {"x2": {"field": "s2"}, "y2": {"field": "v2"}}},
   {"data": {"name": "pts"}, "transform": [{"filter": "datum.p==='P'&&datum.k===4&&datum.g"}], "mark": {"type": "line", "color": "#1a1a1a", "strokeWidth": 1.2}, "encoding": {"detail": {"field": "g"}}},
   {"data": {"name": "pts"}, "transform": [{"filter": "datum.p==='P'&&datum.k===4"}], "mark": {"type": "circle", "color": "#1a1a1a", "size": 30, "opacity": 1}}
  ]},
 {"width": 263.8, "height": 136,
  "encoding": {"x": {"field": "s", "type": "quantitative", "scale": {"domain": [0.5, 48.03], "nice": false, "zero": false}, "axis": {"values": [0.5,2.5,4.5,6.5,8.5,10.5,12.5,14.5,16.5,18.5,20.5,22.5,24.5,26.5,28.5,30.5,32.5,34.5,36.5,38.5,40.5,42.5,44.5,46.5], "labels": false, "title": null, "tickSize": 3, "offset": -1}},
               "y": {"field": "v", "type": "quantitative", "scale": {"domain": [-0.1076, 14.5291], "nice": false, "zero": false}, "axis": {"values": [0,2,4,6,8,10,12], "title": null, "domain": false}}},
  "layer": [
   {"data": {"name": "ph"}, "transform": [{"filter": "datum.p==='C'&&datum.k===4"}], "mark": {"type": "rule", "color": "#1a1a1a", "strokeWidth": 1.2}, "encoding": {"x2": {"field": "s2"}, "y2": {"field": "v2"}}},
   {"data": {"name": "pts"}, "transform": [{"filter": "datum.p==='C'&&datum.k===4&&datum.g"}], "mark": {"type": "line", "color": "#1a1a1a", "strokeWidth": 1.2}, "encoding": {"detail": {"field": "g"}}},
   {"data": {"name": "pts"}, "transform": [{"filter": "datum.p==='C'&&datum.k===4"}], "mark": {"type": "circle", "color": "#1a1a1a", "size": 30, "opacity": 1}}
  ]},
 {"width": 182.6, "height": 136,
  "encoding": {"x": {"field": "s", "type": "quantitative", "scale": {"domain": [0.5, 11.5], "nice": false, "zero": false}, "axis": {"values": [0.5,1.5,2.5,3.5,4.5,5.5,6.5,7.5,8.5,9.5,10.5,11.5], "labels": false, "title": null, "tickSize": 3, "offset": -0.5}},
               "y": {"field": "v", "type": "quantitative", "scale": {"domain": [-0.0533, 14.4533], "nice": false, "zero": false}, "axis": {"values": [0,2,4,6,8,10,12], "title": null, "domain": false}}},
  "layer": [
   {"data": {"name": "ph"}, "transform": [{"filter": "datum.p==='T'&&datum.k===4"}], "mark": {"type": "rule", "color": "#1a1a1a", "strokeWidth": 1.2}, "encoding": {"x2": {"field": "s2"}, "y2": {"field": "v2"}}},
   {"data": {"name": "pts"}, "transform": [{"filter": "datum.p==='T'&&datum.k===4"}], "mark": {"type": "circle", "color": "#1a1a1a", "size": 30, "opacity": 1}}
  ]},
 {"width": 273.6, "height": 136,
  "encoding": {"x": {"field": "s", "type": "quantitative", "scale": {"domain": [0.5, 58], "nice": false, "zero": false}, "axis": {"values": [0.5,1.5,2.5,3.5,4.5,5.5,6.5,7.5,8.5,9.5,10.5,11.5,12.5,13.5,14.5,15.5,16.5,17.5,18.5,19.5,20.5,21.5,22.5,23.5,24.5,25.5,26.5,27.5,28.5,29.5,30.5,31.5,32.5,33.5,34.5,35.5,36.5,37.5,38.5,39.5,40.5,41.5,42.5,43.5,44.5,45.5,46.5,47.5,48.5,49.5,50.5,51.5,52.5,53.5,54.5,55.5,56.5,57.5], "labels": false, "title": null, "tickSize": 3, "offset": -19}},
               "y": {"field": "v", "type": "quantitative", "scale": {"domain": [-1.9487, 12], "nice": false, "zero": false}, "axis": {"values": [0,2,4,6,8,10,12], "title": null, "domain": false}}},
  "layer": [
   {"data": {"name": "ph"}, "transform": [{"filter": "datum.p==='D'&&datum.k===4"}], "mark": {"type": "rule", "color": "#1a1a1a", "strokeWidth": 1.2}, "encoding": {"x2": {"field": "s2"}, "y2": {"field": "v2"}}},
   {"data": {"name": "pts"}, "transform": [{"filter": "datum.p==='D'&&datum.k===4&&datum.g"}], "mark": {"type": "line", "color": "#1a1a1a", "strokeWidth": 1.2}, "encoding": {"detail": {"field": "g"}}},
   {"data": {"name": "pts"}, "transform": [{"filter": "datum.p==='D'&&datum.k===4"}], "mark": {"type": "circle", "color": "#1a1a1a", "size": 30, "opacity": 1}},
   {"data": {"name": "lab"}, "transform": [{"filter": "datum.p==='D'&&datum.k===4&&datum.c==='story'"}], "mark": {"type": "text", "fontSize": 19, "fontWeight": "bold", "baseline": "middle"}, "encoding": {"text": {"field": "t"}}}
  ]},

 {"width": 269.4, "height": 132,
  "encoding": {"x": {"field": "s", "type": "quantitative", "scale": {"domain": [0.4, 43.5], "nice": false, "zero": false}, "axis": {"values": [0.5,2.5,4.5,6.5,8.5,10.5,12.5,14.5,16.5,18.5,20.5,22.5,24.5,26.5,28.5,30.5,32.5,34.5,36.5,38.5,40.5,42.5,5,10,15,20,25,30,35,40], "labelExpr": "datum.value % 5 === 0 ? datum.label : ''", "tickOpacity": {"condition": {"test": "datum.value % 1 === 0", "value": 0}, "value": 1}, "title": "Sessions", "tickSize": 3, "labelPadding": 0.5, "titlePadding": 8, "offset": -12}},
               "y": {"field": "v", "type": "quantitative", "scale": {"domain": [-1.2, 12], "nice": false, "zero": false}, "axis": {"values": [0,2,4,6,8,10,12], "title": null, "domain": false}}},
  "layer": [
   {"data": {"name": "ph"}, "transform": [{"filter": "datum.p==='P'&&datum.k===5"}], "mark": {"type": "rule", "color": "#1a1a1a", "strokeWidth": 1.2}, "encoding": {"x2": {"field": "s2"}, "y2": {"field": "v2"}}},
   {"data": {"name": "pts"}, "transform": [{"filter": "datum.p==='P'&&datum.k===5&&datum.g"}], "mark": {"type": "line", "color": "#1a1a1a", "strokeWidth": 1.2}, "encoding": {"detail": {"field": "g"}}},
   {"data": {"name": "pts"}, "transform": [{"filter": "datum.p==='P'&&datum.k===5"}], "mark": {"type": "circle", "color": "#1a1a1a", "size": 30, "opacity": 1}}
  ]},
 {"width": 263.8, "height": 132,
  "encoding": {"x": {"field": "s", "type": "quantitative", "scale": {"domain": [0.5, 48.03], "nice": false, "zero": false}, "axis": {"values": [0.5,2.5,4.5,6.5,8.5,10.5,12.5,14.5,16.5,18.5,20.5,22.5,24.5,26.5,28.5,30.5,32.5,34.5,36.5,38.5,40.5,42.5,44.5,46.5,5,10,15,20,25,30,35,40,45], "labelExpr": "datum.value % 5 === 0 ? datum.label : ''", "tickOpacity": {"condition": {"test": "datum.value % 1 === 0", "value": 0}, "value": 1}, "title": "Sessions", "tickSize": 4, "labelPadding": 8, "titlePadding": 5, "offset": -5}},
               "y": {"field": "v", "type": "quantitative", "scale": {"domain": [-0.5405, 13.7297], "nice": false, "zero": false}, "axis": {"values": [0,2,4,6,8,10,12], "title": null, "domain": false}}},
  "layer": [
   {"data": {"name": "ph"}, "transform": [{"filter": "datum.p==='C'&&datum.k===5"}], "mark": {"type": "rule", "color": "#1a1a1a", "strokeWidth": 1.2}, "encoding": {"x2": {"field": "s2"}, "y2": {"field": "v2"}}},
   {"data": {"name": "pts"}, "transform": [{"filter": "datum.p==='C'&&datum.k===5&&datum.g"}], "mark": {"type": "line", "color": "#1a1a1a", "strokeWidth": 1.2}, "encoding": {"detail": {"field": "g"}}},
   {"data": {"name": "pts"}, "transform": [{"filter": "datum.p==='C'&&datum.k===5"}], "mark": {"type": "circle", "color": "#1a1a1a", "size": 30, "opacity": 1}}
  ]},
 {"width": 182.6, "height": 132,
  "encoding": {"x": {"field": "s", "type": "quantitative", "scale": {"domain": [0.5, 11.5], "nice": false, "zero": false}, "axis": {"values": [0.5,1.5,2.5,3.5,4.5,5.5,6.5,7.5,8.5,9.5,10.5,11.5,5,10], "labelExpr": "datum.value % 5 === 0 ? datum.label : ''", "tickOpacity": {"condition": {"test": "datum.value % 1 === 0", "value": 0}, "value": 1}, "title": "Sessions", "tickSize": 4, "labelPadding": 8, "titlePadding": 1, "offset": -0.7}},
               "y": {"field": "v", "type": "quantitative", "scale": {"domain": [-0.0776, 14.5485], "nice": false, "zero": false}, "axis": {"values": [0,2,4,6,8,10,12], "title": null, "domain": false}}},
  "layer": [
   {"data": {"name": "ph"}, "transform": [{"filter": "datum.p==='T'&&datum.k===5"}], "mark": {"type": "rule", "color": "#1a1a1a", "strokeWidth": 1.2}, "encoding": {"x2": {"field": "s2"}, "y2": {"field": "v2"}}},
   {"data": {"name": "pts"}, "transform": [{"filter": "datum.p==='T'&&datum.k===5"}], "mark": {"type": "circle", "color": "#1a1a1a", "size": 30, "opacity": 1}}
  ]},
 {"width": 273.6, "height": 132,
  "encoding": {"x": {"field": "s", "type": "quantitative", "scale": {"domain": [0.5, 58], "nice": false, "zero": false}, "axis": {"values": [0.5,2.5,4.5,6.5,8.5,10.5,12.5,14.5,16.5,18.5,20.5,22.5,24.5,26.5,28.5,30.5,32.5,34.5,36.5,38.5,40.5,42.5,44.5,46.5,48.5,50.5,52.5,54.5,56.5,10,20,30,40,50], "labelExpr": "datum.value % 10 === 0 ? datum.label : ''", "tickOpacity": {"condition": {"test": "datum.value % 1 === 0", "value": 0}, "value": 1}, "title": "Sessions", "tickSize": 4, "labelPadding": 10, "titlePadding": 4, "offset": -8}},
               "y": {"field": "v", "type": "quantitative", "scale": {"domain": [-0.7805, 12.0976], "nice": false, "zero": false}, "axis": {"values": [0,2,4,6,8,10,12], "title": null, "domain": false}}},
  "layer": [
   {"data": {"name": "ph"}, "transform": [{"filter": "datum.p==='D'&&datum.k===5"}], "mark": {"type": "rule", "color": "#1a1a1a", "strokeWidth": 1.2}, "encoding": {"x2": {"field": "s2"}, "y2": {"field": "v2"}}},
   {"data": {"name": "pts"}, "transform": [{"filter": "datum.p==='D'&&datum.k===5&&datum.g"}], "mark": {"type": "line", "color": "#1a1a1a", "strokeWidth": 1.2}, "encoding": {"detail": {"field": "g"}}},
   {"data": {"name": "pts"}, "transform": [{"filter": "datum.p==='D'&&datum.k===5"}], "mark": {"type": "circle", "color": "#1a1a1a", "size": 30, "opacity": 1}},
   {"data": {"name": "lab"}, "transform": [{"filter": "datum.p==='D'&&datum.k===5&&datum.c==='story'"}], "mark": {"type": "text", "fontSize": 19, "fontWeight": "bold", "baseline": "middle"}, "encoding": {"text": {"field": "t"}}}
  ]}
]
}
